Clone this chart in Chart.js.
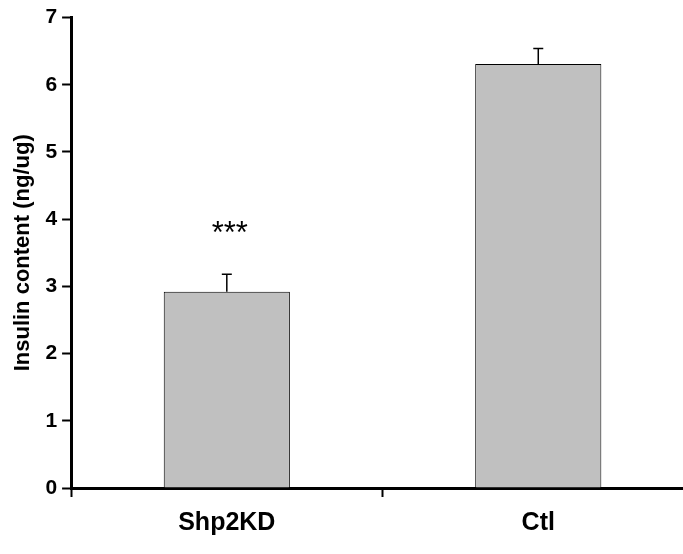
<!DOCTYPE html>
<html>
<head>
<meta charset="utf-8">
<script src="https://cdn.jsdelivr.net/npm/chart.js@4"></script>
<style>
  html, body { margin: 0; padding: 0; background: #fff; overflow: hidden; }
  #wrap { width: 700px; height: 554px; }
</style>
</head>
<body>
<div id="wrap"><canvas id="myChart"></canvas></div>
<script>
// datos
const grupos = ['Shp2KD', 'Ctl']
const insulina = [2.92, 6.31]
const errores = [0.26, 0.23]
const marcas = ['***', '']
const ticksY = [0, 1, 2, 3, 4, 5, 6, 7]

// barras de error (solo hacia arriba) y asteriscos
const errorBars = {
    id: 'errorBars',
    afterDatasetsDraw(chart) {
        const ctx = chart.ctx
        const meta = chart.getDatasetMeta(0)
        const y = chart.scales.y
        ctx.save()
        ctx.strokeStyle = '#000'
        ctx.lineWidth = 1.5
        meta.data.forEach(function (bar, i) {
            const top = y.getPixelForValue(insulina[i] + errores[i])
            ctx.beginPath()
            ctx.moveTo(bar.x, bar.y)
            ctx.lineTo(bar.x, top)
            ctx.moveTo(bar.x - 5, top)
            ctx.lineTo(bar.x + 5, top)
            ctx.stroke()
            if (marcas[i]) {
                ctx.fillStyle = '#000'
                ctx.font = '31px "Liberation Sans", Arial, sans-serif'
                ctx.textAlign = 'center'
                ctx.textBaseline = 'middle'
                ctx.fillText(marcas[i], bar.x + 3, y.getPixelForValue(insulina[i] + errores[i] + 0.6))
            }
        })
        ctx.restore()
    }
}

const fuente = '"Liberation Sans", Arial, sans-serif'
const ctx = document.getElementById('myChart').getContext('2d')
let chart = new Chart(ctx, {
    type: 'bar',
    data: {
        labels: grupos,
        datasets: [{
            data: insulina,
            backgroundColor: '#c0c0c0',
            borderColor: '#000',
            borderWidth: 1,
            categoryPercentage: 1,
            barPercentage: 0.405
        }]
    },
    options: {
        responsive: true,
        maintainAspectRatio: false,
        animation: false,
        layout: { padding: { top: 0, right: 6, left: 10, bottom: 5 } },
        plugins: {
            legend: { display: false },
            tooltip: { enabled: false }
        },
        scales: {
            x: {
                border: { display: true, color: '#000', width: 3 },
                grid: {
                    offset: true,
                    drawOnChartArea: false,
                    drawTicks: true,
                    tickLength: 9,
                    tickWidth: 2,
                    tickColor: '#000'
                },
                ticks: {
                    color: '#000',
                    padding: 11,
                    font: { family: fuente, size: 25, weight: 'bold' }
                }
            },
            y: {
                min: 0,
                max: 7,
                afterBuildTicks: function (axis) {
                    axis.ticks = ticksY.map(function (v) { return { value: v } })
                },
                border: { display: true, color: '#000', width: 3 },
                grid: {
                    drawOnChartArea: false,
                    drawTicks: true,
                    tickLength: 9,
                    tickWidth: 2,
                    tickColor: '#000'
                },
                ticks: {
                    color: '#000',
                    padding: 5,
                    font: { family: fuente, size: 21, weight: 'bold' }
                },
                title: {
                    display: true,
                    text: 'Insulin content (ng/ug)',
                    color: '#000',
                    padding: { top: 0, bottom: 4 },
                    font: { family: fuente, size: 22, weight: 'bold' }
                }
            }
        }
    },
    plugins: [errorBars]
})
</script>
</body>
</html>
